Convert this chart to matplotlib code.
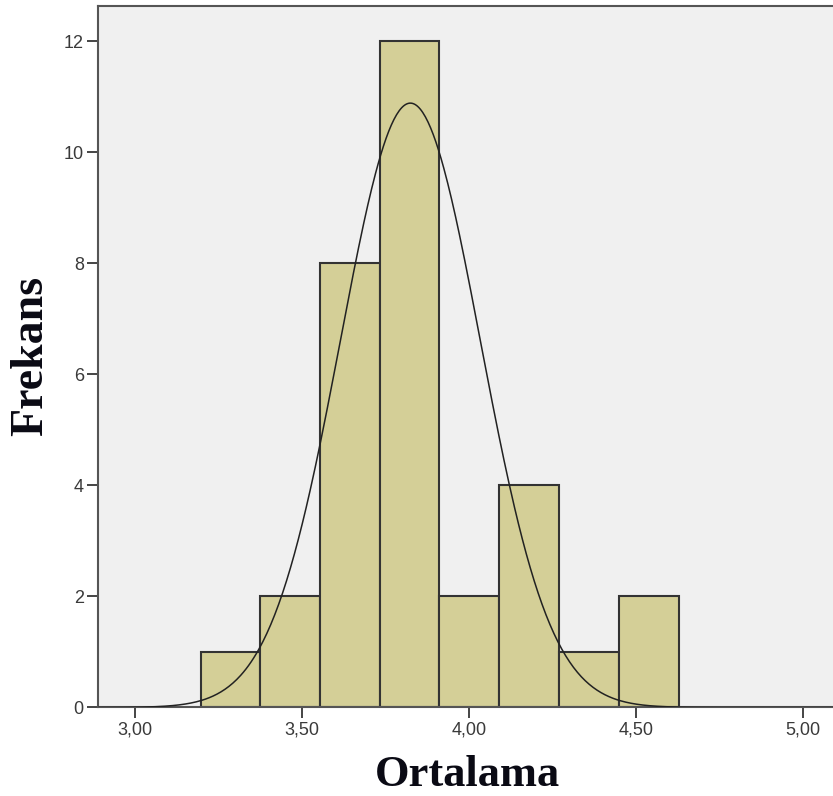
import numpy as np
import matplotlib.pyplot as plt

# histogram of the scale means
bin_edges = [3.197, 3.376, 3.555, 3.734, 3.912, 4.091, 4.270, 4.449, 4.628]
counts = [1, 2, 8, 12, 2, 4, 1, 2]

# fitted normal curve
mean = 3.825
std = 0.2097
n = sum(counts)

xticks = [3.00, 3.50, 4.00, 4.50, 5.00]
xtick_labels = ["3,00", "3,50", "4,00", "4,50", "5,00"]
yticks = [0, 2, 4, 6, 8, 10, 12]

fig = plt.figure(figsize=(8.33, 7.96), dpi=100)
ax = fig.add_axes([0.1173, 0.1112, 0.891, 0.8813])
ax.set_facecolor("#f0f0f0")

widths = np.diff(bin_edges)
ax.bar(bin_edges[:-1], counts, width=widths, align="edge",
       color="#d4cf97", edgecolor="#333333", linewidth=1.5, zorder=2)

bw = widths.mean()
xs = np.linspace(2.85, 5.2, 600)
ys = n * bw / (std * np.sqrt(2 * np.pi)) * np.exp(-0.5 * ((xs - mean) / std) ** 2)
ax.plot(xs, ys, color="#222222", linewidth=1.1, zorder=3)

ax.set_xlim(2.889, 5.111)
ax.set_ylim(0, 12.64)
ax.set_xticks(xticks)
ax.set_xticklabels(xtick_labels)
ax.set_yticks(yticks)
ax.tick_params(direction="out", length=8, width=1.4, color="#444444",
               labelcolor="#3a3a3a", labelsize=13, pad=2)
for lbl in ax.get_xticklabels() + ax.get_yticklabels():
    lbl.set_family("Liberation Sans")

for side in ["left", "bottom", "top", "right"]:
    ax.spines[side].set_color("#555555")
    ax.spines[side].set_linewidth(1.5)

fig.text(0.5615, 0.0125, "Ortalama", ha="center", va="baseline",
         family="Liberation Serif", weight="bold", fontsize=32, color="#0a0a14")
fig.text(0.038, 0.553, "Frekans", ha="center", va="center", rotation=90,
         family="Liberation Serif", weight="bold", fontsize=33, color="#0a0a14")

fig.savefig("out.png", dpi=100)
